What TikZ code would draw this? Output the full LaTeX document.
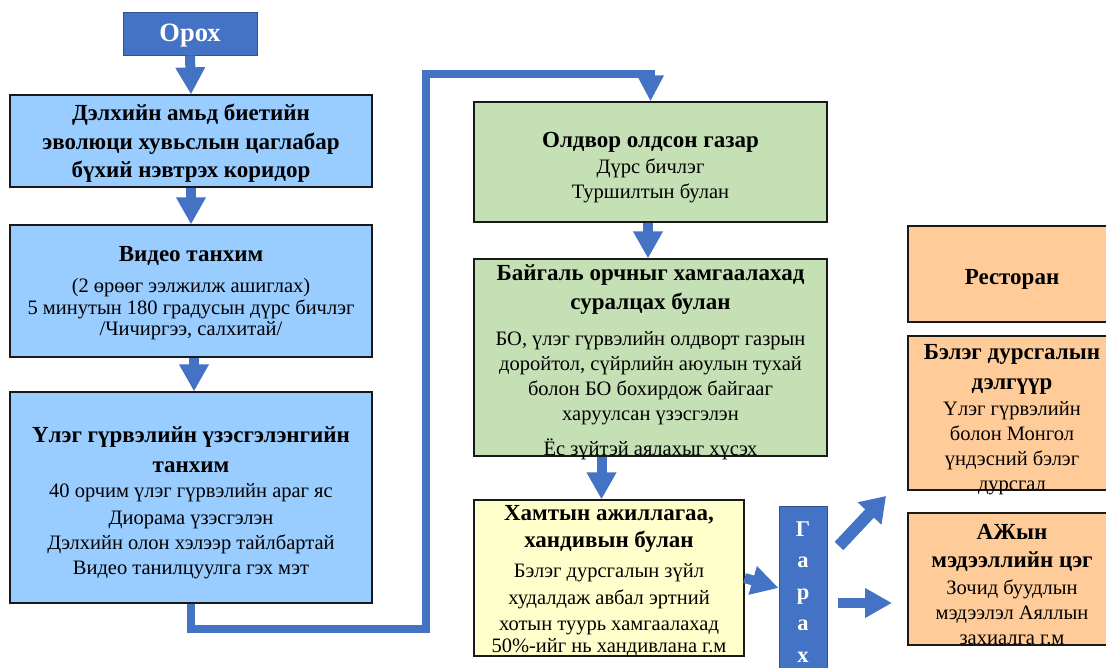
\documentclass[tikz,border=0pt]{standalone}
\usepackage{fontspec}
\setmainfont{Liberation Serif}
\newfontfamily\tnr{Liberation Serif}
\usetikzlibrary{arrows.meta}
\definecolor{mblue}{HTML}{4472C4}
\definecolor{mbluedark}{HTML}{2F528F}
\definecolor{lblue}{HTML}{99CCFF}
\definecolor{lgreen}{HTML}{C5E0B4}
\definecolor{lyellow}{HTML}{FFFFCC}
\definecolor{lorange}{HTML}{FFCC99}
\newcommand\nt{\tnr\fontsize{20.5}{25}\selectfont}
\newcommand\hb{\tnr\fontsize{23}{25}\selectfont\bfseries}
\tikzset{
  box/.style={draw=black!90, line width=1.2pt, inner sep=0pt},
  txt/.style={inner sep=0pt, align=center, font=\nt},
  bluebox/.style={fill=mblue, draw=mbluedark, line width=0.8pt, inner sep=0pt, align=center, text=white},
  barrow/.style={draw=mblue, line width=10pt, -{Triangle[length=27pt,width=28pt]}},
}
\begin{document}
\begin{tikzpicture}[x=1pt,y=-1pt]
\useasboundingbox (0,0) rectangle (1106,668);
\clip (0,0) rectangle (1106,668);

% boxes
\node[bluebox, minimum width=134pt, minimum height=43pt] (orox) at (190,33.5) {};
\node[txt, text=white, font=\tnr\fontsize{26.5}{28}\selectfont\bfseries] (oroxt) at (190,35.5) {Орох};

\node[box, fill=lblue, minimum width=362pt, minimum height=92pt] (box1) at (191,141) {};
\node[txt] (box1t) at (191,143.5)
 {{\hb Дэлхийн амьд биетийн}\\[3.5pt]{\hb эволюци хувьслын цаглабар}\\[3.5pt]{\hb бүхий нэвтрэх коридор}};

\node[box, fill=lblue, minimum width=362pt, minimum height=132pt] (box2) at (191,291) {};
\node[txt] (box2t) at (191,293.5)
 {{\hb Видео танхим}\\[6pt](2 өрөөг ээлжилж ашиглах)\\[-3pt]5 минутын 180 градусын дүрс бичлэг\\[-4pt]/Чичиргээ, салхитай/};

\node[box, fill=lblue, minimum width=362pt, minimum height=211pt] (box3) at (191,497.5) {};
\node[txt] (box3t) at (191,503)
 {{\hb Үлэг гүрвэлийн үзэсгэлэнгийн}\\[5pt]{\hb танхим}\\40 орчим үлэг гүрвэлийн араг яс\\[2.5pt]Диорама үзэсгэлэн\\Дэлхийн олон хэлээр тайлбартай\\Видео танилцуулга гэх мэт};

\node[box, fill=lgreen, minimum width=353pt, minimum height=120pt] (box4) at (650.5,162) {};
\node[txt] (box4t) at (650.5,167.5)
 {{\hb Олдвор олдсон газар}\\[1pt]Дүрс бичлэг\\Туршилтын булан};

\node[box, fill=lgreen, minimum width=353pt, minimum height=197pt] (box5) at (650.5,357.5) {};
\node[txt] (box5t) at (650.5,362)
 {{\hb Байгаль орчныг хамгаалахад}\\[4pt]{\hb суралцах булан}\\[11pt]БО, үлэг гүрвэлийн олдворт газрын\\доройтол, сүйрлийн аюулын тухай\\болон БО бохирдож байгааг\\харуулсан үзэсгэлэн\\[10pt]Ёс зүйтэй аялахыг хүсэх};

\node[box, fill=lyellow, minimum width=270pt, minimum height=156pt] (box6) at (609,578) {};
\node[txt] (box6t) at (609,581)
 {{\hb Хамтын ажиллагаа,}\\[2pt]{\hb хандивын булан}\\[5pt]Бэлэг дурсгалын зүйл\\[2pt]худалдаж авбал эртний\\[0.5pt]хотын туурь хамгаалахад\\[-2.5pt]50\%-ийг нь хандивлана г.м};

\node[bluebox, minimum width=48pt, minimum height=172pt, font=\tnr\fontsize{22.5}{31.5}\selectfont\bfseries] (garah) at (803,592)
 {Г\\а\\р\\а\\х};

\node[box, fill=lorange, minimum width=208pt, minimum height=96pt] (rest) at (1012,274) {};
\node[txt] (restt) at (1012,279) {{\hb Ресторан}};

\node[box, fill=lorange, minimum width=208pt, minimum height=154pt] (shop) at (1012,413) {};
\node[txt] (shopt) at (1012,419.5)
 {{\hb Бэлэг дурсгалын}\\[5pt]{\hb дэлгүүр}\\[1pt]Үлэг гүрвэлийн\\болон Монгол\\үндэсний бэлэг\\дурсгал};

\node[box, fill=lorange, minimum width=208pt, minimum height=132pt] (info) at (1012,579) {};
\node[txt] (infot) at (1012,584.5)
 {{\hb АЖын}\\[3pt]{\hb мэдээллийн цэг}\\[2pt]Зочид буудлын\\мэдээлэл Аяллын\\захиалга г.м};

% connectors
\draw[barrow] (orox.south) -- (box1.north);
\draw[barrow] (box1.south) -- (box2.north);
\draw[barrow] ([xshift=3pt]box2.south) -- ([xshift=3pt]box3.north);
\draw[barrow] ([xshift=-2.5pt]box4.south) -- ([xshift=-2.5pt]box5.north);
\draw[barrow] ([xshift=-49pt]box5.south) -- ([xshift=-7.5pt]box6.north);
\draw[barrow] (box6.east) -- ([yshift=4pt]garah.west);

\coordinate (c1) at (426,629);
\coordinate (c2) at (426,74);
\draw[draw=mblue, line width=8pt, line join=miter, -{Triangle[length=26pt,width=25pt]}]
  (box3.south) |- (c1) -- (c2) -| (box4.north);

\coordinate (d1s) at (839,546);
\coordinate (d1e) at (886,496);
\draw[draw=mblue, line width=12pt, -{Triangle[length=24pt,width=31pt]}] (d1s) -- (d1e);
\coordinate (d2s) at (838,603);
\coordinate (d2e) at (892,603);
\draw[barrow] (d2s) -- (d2e);
\end{tikzpicture}
\end{document}
